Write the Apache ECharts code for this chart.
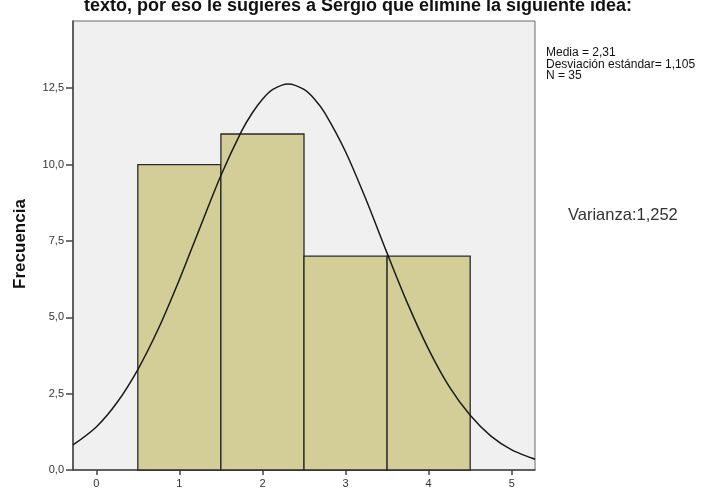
<!DOCTYPE html>
<html>
<head>
<meta charset="utf-8">
<script src="https://cdn.jsdelivr.net/npm/echarts@6/dist/echarts.min.js"></script>
<style>
  html, body { margin: 0; padding: 0; background: #fff; }
  #chart { width: 701px; height: 493px; }
</style>
</head>
<body>
<div id="chart"></div>
<script>
// histogram bins (edges) and counts
const binEdges = [0.5, 1.5, 2.5, 3.5, 4.5];
const counts = [10, 11, 7, 7];

// normal curve
const curveX = [-0.28, 0, 0.25, 0.5, 0.75, 1, 1.25, 1.5, 1.75, 1.875, 2, 2.125, 2.31, 2.5, 2.625, 2.75, 3, 3.25, 3.5, 3.75, 4, 4.25, 4.5, 4.75, 5, 5.28];
const curveY = [0.82, 1.41, 2.21, 3.29, 4.64, 6.23, 7.95, 9.64, 11.1, 11.68, 12.14, 12.46, 12.64, 12.46, 12.15, 11.69, 10.42, 8.83, 7.1, 5.43, 3.95, 2.72, 1.79, 1.11, 0.66, 0.35];

const xTicks = [0, 1, 2, 3, 4, 5];
const yTicks = [0, 2.5, 5, 7.5, 10, 12.5];

const statsLines = ['Media = 2,31', 'Desviación estándar= 1,105', 'N = 35'];
const varianceText = 'Varianza:1,252';
const titleText = 'texto, por eso le sugieres a Sergio que elimine la siguiente idea:';

const chart = echarts.init(document.getElementById('chart'));

const bars = counts.map((c, i) => [binEdges[i], binEdges[i + 1], c]);
const fmt = v => v.toFixed(1).replace('.', ',');

const option = {
  animation: false,
  textStyle: { fontFamily: 'Liberation Sans, Arial, sans-serif' },
  grid: {
    left: 73, right: 166, top: 21, bottom: 23,
    show: true,
    backgroundColor: '#f0f0f0',
    borderColor: '#6b6b6b',
    borderWidth: 1
  },
  xAxis: {
    type: 'value',
    min: -0.28,
    max: 5.28,
    splitLine: { show: false },
    axisLine: { onZero: false, lineStyle: { color: '#444', width: 1.5 } },
    axisTick: { show: true, length: 5, customValues: xTicks, lineStyle: { color: '#444', width: 1.5 } },
    axisLabel: { customValues: xTicks, color: '#333', fontSize: 11, margin: 8 }
  },
  yAxis: {
    type: 'value',
    min: 0,
    max: 14.7,
    splitLine: { show: false },
    axisLine: { show: true, onZero: false, lineStyle: { color: '#444', width: 1.5 } },
    axisTick: { show: true, length: 7, customValues: yTicks, lineStyle: { color: '#444', width: 1.5 } },
    axisLabel: { customValues: yTicks, formatter: fmt, color: '#333', fontSize: 11, margin: 9 }
  },
  series: [
    {
      type: 'custom',
      data: bars,
      renderItem: function (params, api) {
        const p0 = api.coord([api.value(0), api.value(2)]);
        const p1 = api.coord([api.value(1), 0]);
        return {
          type: 'rect',
          shape: { x: p0[0], y: p0[1], width: p1[0] - p0[0], height: p1[1] - p0[1] },
          style: { fill: '#d3ce97', stroke: '#2a2a2a', lineWidth: 1.3 }
        };
      },
      z: 2
    },
    {
      type: 'line',
      data: curveX.map((x, i) => [x, curveY[i]]),
      smooth: 0.3,
      symbol: 'none',
      lineStyle: { color: '#1a1a1a', width: 1.5 },
      z: 3
    }
  ],
  graphic: [
    {
      type: 'text', x: 358, y: -3,
      style: { text: titleText, font: 'bold 18px Liberation Sans, Arial, sans-serif', fill: '#111', align: 'center' }
    },
    {
      type: 'text', x: 20, y: 244, rotation: Math.PI / 2,
      style: { text: 'Frecuencia', font: 'bold 17px Liberation Sans, Arial, sans-serif', fill: '#111', align: 'center', verticalAlign: 'middle' }
    },
    {
      type: 'text', x: 546, y: 47,
      style: { text: statsLines.join('\n'), font: '12px Liberation Sans, Arial, sans-serif', lineHeight: 11.5, fill: '#111' }
    },
    {
      type: 'text', x: 568, y: 207,
      style: { text: varianceText, font: '16.5px Liberation Sans, Arial, sans-serif', fill: '#333' }
    }
  ]
};

chart.setOption(option);
</script>
</body>
</html>
